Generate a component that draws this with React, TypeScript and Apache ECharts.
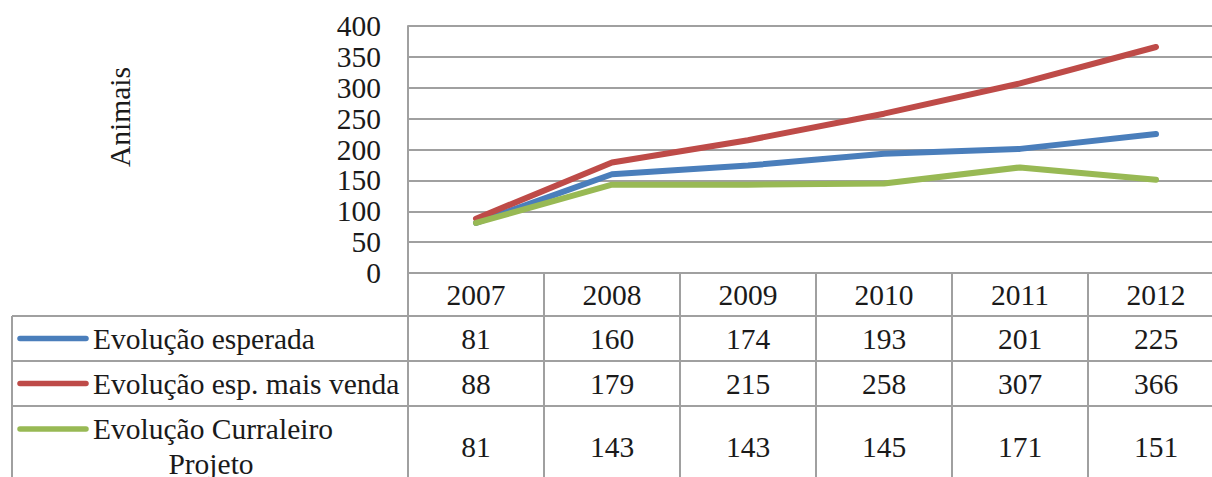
import React, { useEffect, useRef } from "react";
import * as echarts from "echarts";

const years = ["2007", "2008", "2009", "2010", "2011", "2012"];
const seriesNames = ["Evolução esperada", "Evolução esp. mais venda", "Evolução Curraleiro Projeto"];
const esperada = [81, 160, 174, 193, 201, 225];
const maisVenda = [88, 179, 215, 258, 307, 366];
const curraleiro = [81, 143, 143, 145, 171, 151];
const seriesData = [esperada, maisVenda, curraleiro];
const colors = ["#4A7EBB", "#BE4B48", "#98B954"];
const yAxisTitle = "Animais";

const FONT = "'Liberation Serif', 'Times New Roman', serif";
const FS = 29.5;
const TXT = "#1a1a1a";
const GRID = "#a0a0a0";

// table layout (rows below the x axis)
const rowTops = [316, 361, 406];
const rowBottoms = [361, 406, 488];
const tableLeft = 12;
const tableRight = 1224;

export default function App() {
  const ref = useRef<HTMLDivElement>(null);
  useEffect(() => {
    if (!ref.current) return;
    const chart = echarts.init(ref.current, null, { renderer: "svg" });
    chart.setOption({
      animation: false,
      textStyle: { fontFamily: FONT },
      grid: { left: 408, top: 26, width: 816, height: 247, containLabel: false },
      xAxis: {
        type: "category",
        data: years,
        boundaryGap: true,
        axisLine: { show: true, lineStyle: { color: GRID, width: 2 } },
        axisTick: { show: true, length: 215, interval: 0, lineStyle: { color: GRID, width: 2 } },
        axisLabel: { fontFamily: FONT, fontSize: FS, color: TXT, margin: 7, interval: 0 },
        splitLine: { show: false },
      },
      yAxis: {
        type: "value",
        min: 0,
        max: 400,
        interval: 50,
        axisLine: { show: true, lineStyle: { color: GRID, width: 2 } },
        axisTick: { show: false },
        axisLabel: { fontFamily: FONT, fontSize: FS, color: TXT, margin: 27 },
        splitLine: { show: true, lineStyle: { color: GRID, width: 2 } },
      },
      series: seriesData.map((d, i) => ({
        type: "line",
        name: seriesNames[i],
        data: d,
        symbol: "none",
        lineStyle: { color: colors[i], width: 6, cap: "round", join: "round" },
      })),
    });

    const graphics: any[] = [];
    rowTops.forEach((y) => {
      graphics.push({
        type: "line",
        shape: { x1: tableLeft, y1: y, x2: tableRight, y2: y },
        style: { stroke: GRID, lineWidth: 2 },
      });
    });
    graphics.push({
      type: "line",
      shape: { x1: tableLeft, y1: rowTops[0], x2: tableLeft, y2: 490 },
      style: { stroke: GRID, lineWidth: 2 },
    });
    const textStyle = (extra: any) => ({ fontFamily: FONT, fontSize: FS, fill: TXT, textVerticalAlign: "middle", ...extra });
    seriesNames.forEach((name, r) => {
      const twoLines = r === 2;
      const cy = twoLines ? 429 : (rowTops[r] + rowBottoms[r]) / 2;
      graphics.push({
        type: "line",
        shape: { x1: 20, y1: cy, x2: 86, y2: cy },
        style: { stroke: colors[r], lineWidth: 5.5, lineCap: "round" },
      });
      if (twoLines) {
        const words = name.split(" ");
        const last = words.pop();
        graphics.push({ type: "text", x: 93, y: cy, style: textStyle({ text: words.join(" "), textAlign: "left" }) });
        graphics.push({ type: "text", x: 211, y: cy + 35, style: textStyle({ text: last, textAlign: "center" }) });
      } else {
        graphics.push({ type: "text", x: 93, y: cy, style: textStyle({ text: name, textAlign: "left" }) });
      }
      const rowCy = (rowTops[r] + rowBottoms[r]) / 2;
      seriesData[r].forEach((v, i) => {
        const x = chart.convertToPixel({ xAxisIndex: 0 }, years[i]) as number;
        graphics.push({ type: "text", x, y: rowCy, style: textStyle({ text: String(v), textAlign: "center" }) });
      });
    });
    graphics.push({
      type: "text",
      x: 120,
      y: 117,
      rotation: Math.PI / 2,
      style: textStyle({ text: yAxisTitle, textAlign: "center" }),
    });
    chart.setOption({ graphic: graphics });

    return () => chart.dispose();
  }, []);
  return (
    <div style={{ position: "absolute", left: 0, top: 0, width: 1212, height: 477, overflow: "hidden", background: "#fff" }}>
      <div ref={ref} style={{ width: 1236, height: 477 }} />
    </div>
  );
}
